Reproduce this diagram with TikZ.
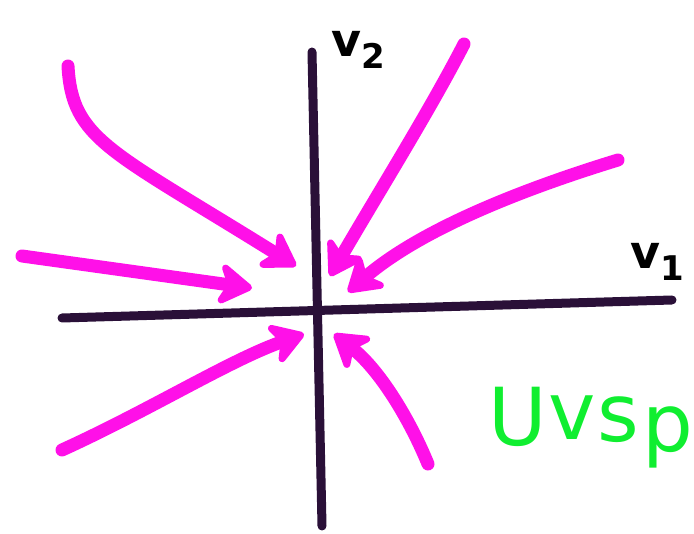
\documentclass[tikz,border=0pt]{standalone}
\usepackage{fontspec}
\setsansfont{DejaVu Sans}
\usetikzlibrary{arrows.meta}
\definecolor{axisc}{HTML}{2A1038}
\definecolor{magc}{HTML}{FF10E8}
\definecolor{grn}{HTML}{10EE30}
\tikzset{
  axisline/.style={draw=axisc, line width=9pt, line cap=round},
  flow/.style={draw=magc, line width=13pt, line cap=round,
    -{Stealth[length=40pt,width=50pt,inset=12pt,round]}},
  lab/.style={font=\sffamily\bfseries\fontsize{46}{46}\selectfont, text=black, inner sep=0pt},
  glab/.style={font=\sffamily\fontsize{80}{80}\selectfont, text=grn, inner sep=0pt, anchor=base}
}
\begin{document}
\begin{tikzpicture}[x=1pt,y=-1pt]
\useasboundingbox (0,0) rectangle (694,534);
% axes
\coordinate (hl) at (62,318);
\coordinate (hr) at (672,300);
\coordinate (vt) at (312,52);
\coordinate (vb) at (322,526);
\draw[axisline] (hl) -- (hr);
\draw[axisline] (vt) -- (vb);
% flow arrows
\coordinate (a1s) at (68,66);
\coordinate (a1e) at (296,266);
\draw[flow] (a1s) .. controls (72,140) and (110,150) .. (a1e);
\coordinate (a2s) at (22,256);
\coordinate (a2e) at (252,288);
\draw[flow] (a2s) -- (a2e);
\coordinate (a3s) at (464,44);
\coordinate (a3e) at (330,276);
\draw[flow] (a3s) .. controls (430,110) and (380,190) .. (a3e);
\coordinate (a4s) at (618,160);
\coordinate (a4e) at (348,292);
\draw[flow] (a4s) .. controls (520,190) and (420,230) .. (a4e);
\coordinate (a5s) at (62,450);
\coordinate (a5e) at (304,334);
\draw[flow] (a5s) .. controls (150,410) and (230,360) .. (a5e);
\coordinate (a6s) at (428,464);
\coordinate (a6e) at (334,334);
\draw[flow] (a6s) .. controls (410,420) and (380,370) .. (a6e);
% labels
\node[lab] (v2) at (358,50) {v\raisebox{-12pt}{\fontsize{34}{34}\selectfont 2}};
\node[lab, anchor=west] (v1) at (630,262) {v\raisebox{-12pt}{\fontsize{34}{34}\selectfont 1}};
\node[glab] (g1) at (518,446) {U};
\node[glab] (g2) at (572,440) {v};
\node[glab] (g3) at (618,442) {s};
\node[glab] (g4) at (668,452) {p};
\end{tikzpicture}
\end{document}
